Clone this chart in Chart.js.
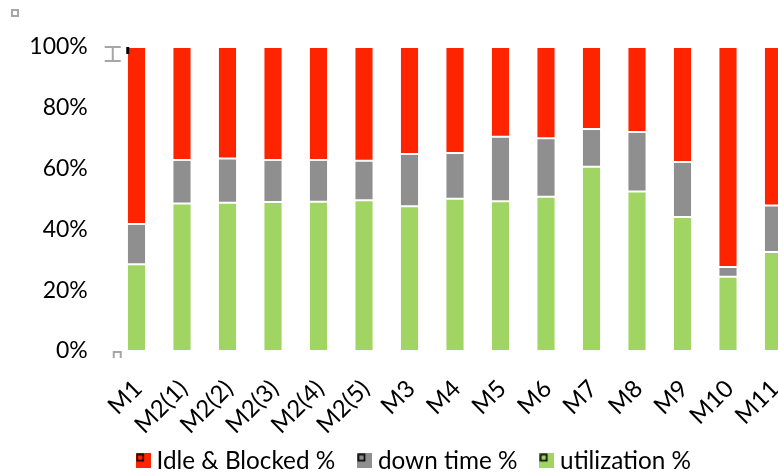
<!DOCTYPE html>
<html>
<head>
<meta charset="utf-8">
<script src="https://cdn.jsdelivr.net/npm/chart.js@4.4.1/dist/chart.umd.min.js"></script>
<style>
  html, body { margin: 0; padding: 0; overflow: hidden; background: #ffffff; }
  #wrap { position: absolute; left: 0; top: 0; width: 827px; height: 484px; }
</style>
</head>
<body>
<div id="wrap"><canvas id="machines" width="827" height="484"></canvas></div>
<script>
// Machine states, percent of total time per machine
const machines = ['M1', 'M2(1)', 'M2(2)', 'M2(3)', 'M2(4)', 'M2(5)', 'M3', 'M4', 'M5', 'M6', 'M7', 'M8', 'M9', 'M10', 'M11'];
const utilization = [28.5, 48.5, 48.8, 49.0, 49.1, 49.6, 47.6, 50.1, 49.3, 50.7, 60.6, 52.5, 44.1, 24.4, 32.6];
const downTime    = [13.3, 14.3, 14.5, 13.8, 13.7, 13.0, 17.2, 15.0, 21.2, 19.3, 12.4, 19.5, 18.1, 3.2, 15.3];
const idleBlocked = [58.2, 37.2, 36.7, 37.2, 37.2, 37.4, 35.2, 34.9, 29.5, 30.0, 27.0, 28.0, 37.8, 72.4, 52.1];
const yTickValues = [0, 20, 40, 60, 80, 100];

const COLORS = { util: '#a0d463', down: '#8f8f8f', idle: '#ff2400' };
const FONT = 'Lato';

// Legend swatch: filled square with a small outlined handle in its corner
function swatch(color) {
  const c = document.createElement('canvas');
  c.width = 15; c.height = 15;
  const g = c.getContext('2d');
  g.fillStyle = color;
  g.fillRect(0, 0, 15, 15);
  g.strokeStyle = '#000';
  g.lineWidth = 1.6;
  g.strokeRect(1.3, 1.3, 6, 6);
  return c;
}

// Let axis labels run past the edges of their axis boxes
const unclipLabels = {
  id: 'unclipLabels',
  afterLayout(chart) {
    chart.scales.x.bottom = chart.height;
    chart.scales.y.left = 0;
  }
};

// Selection handles drawn around the plot
const selectionHandles = {
  id: 'selectionHandles',
  afterDraw(chart) {
    const { ctx, chartArea: a } = chart;
    ctx.save();
    ctx.strokeStyle = '#a6a6a6';
    ctx.lineWidth = 2;
    ctx.strokeRect(12, 10, 6, 6);
    // I-beam beside the top of the axis
    ctx.beginPath();
    ctx.moveTo(a.left - 9, a.top); ctx.lineTo(a.left + 7, a.top);
    ctx.moveTo(a.left - 1, a.top); ctx.lineTo(a.left - 1, a.top + 14);
    ctx.moveTo(a.left - 9, a.top + 14); ctx.lineTo(a.left + 7, a.top + 14);
    ctx.stroke();
    // small bracket at the base
    ctx.beginPath();
    ctx.moveTo(a.left, a.bottom + 7); ctx.lineTo(a.left, a.bottom + 1);
    ctx.lineTo(a.left + 7, a.bottom + 1); ctx.lineTo(a.left + 7, a.bottom + 7);
    ctx.stroke();
    ctx.fillStyle = '#000';
    ctx.fillRect(a.left + 12.5, a.top, 3, 7);
    ctx.restore();
  }
};

const barStyle = { barPercentage: 0.42, categoryPercentage: 1, borderWidth: 1, borderColor: 'rgba(255,255,255,0.3)', borderSkipped: false };

new Chart(document.getElementById('machines'), {
  type: 'bar',
  data: {
    labels: machines,
    datasets: [
      { label: 'utilization %', data: utilization, backgroundColor: COLORS.util, ...barStyle },
      { label: 'down time %', data: downTime, backgroundColor: COLORS.down, ...barStyle },
      { label: 'Idle & Blocked %', data: idleBlocked, backgroundColor: COLORS.idle, ...barStyle }
    ]
  },
  options: {
    responsive: false,
    animation: false,
    devicePixelRatio: 1,
    layout: { padding: { left: 37.2, right: 30.75, top: 47, bottom: 1 } },
    scales: {
      x: {
        stacked: true,
        grid: { display: false, drawTicks: false },
        border: { display: false },
        ticks: {
          autoSkip: false, minRotation: 45, maxRotation: 45,
          padding: 23.5, labelOffset: 1.5,
          color: '#000', font: { family: FONT, size: 24 }
        },
        afterFit(scale) { scale.height = 69.2; }
      },
      y: {
        stacked: true,
        min: 0, max: 100,
        afterBuildTicks(scale) { scale.ticks = yTickValues.map(v => ({ value: v })); },
        grid: { display: false, drawTicks: false },
        border: { display: false },
        ticks: {
          padding: 26, color: '#000', font: { family: FONT, size: 23 },
          callback: v => v + '%'
        },
        afterFit(scale) { scale.width = 76.55; }
      }
    },
    plugins: {
      tooltip: { enabled: false },
      legend: {
        position: 'bottom',
        reverse: true,
        labels: {
          usePointStyle: true,
          pointStyleWidth: 2,
          boxHeight: 15,
          padding: 28.5,
          color: '#000',
          font: { family: FONT, size: 24.3 },
          generateLabels(chart) {
            const items = Chart.defaults.plugins.legend.labels.generateLabels(chart);
            items.forEach(it => {
              it.pointStyle = swatch(chart.data.datasets[it.datasetIndex].backgroundColor);
            });
            return items;
          }
        }
      }
    }
  },
  plugins: [unclipLabels, selectionHandles]
});
</script>
</body>
</html>
